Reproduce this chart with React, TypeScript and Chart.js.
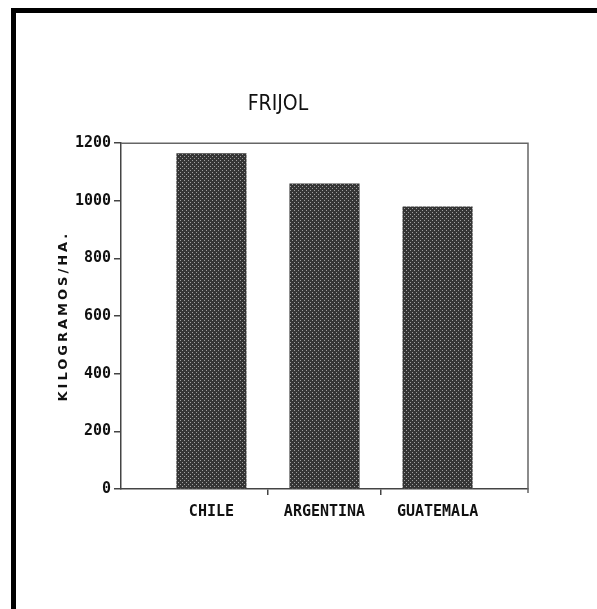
import React, { useEffect, useRef } from 'react';
import { Chart, registerables } from 'chart.js';

Chart.register(...registerables);

const CATEGORIES = ['CHILE', 'ARGENTINA', 'GUATEMALA'];
const YIELD_KG_HA = [1165, 1060, 980];
const Y_TICKS = [0, 200, 400, 600, 800, 1000, 1200];
const TITLE = 'FRIJOL';
const Y_TITLE = 'KILOGRAMOS/HA.';

function makePattern(ctx: CanvasRenderingContext2D): CanvasPattern | string {
  const c = document.createElement('canvas');
  c.width = 4;
  c.height = 4;
  const g = c.getContext('2d');
  if (!g) return '#454545';
  g.fillStyle = '#353535';
  g.fillRect(0, 0, 4, 4);
  g.fillStyle = '#a0a0a0';
  g.fillRect(0, 0, 1, 1);
  g.fillRect(2, 2, 1, 1);
  return ctx.createPattern(c, 'repeat') || '#454545';
}

const framePlugin = {
  id: 'plotFrame',
  afterLayout(chart: any) {
    const s = chart.scales.y;
    if (s && !s.__spaced) {
      const orig = s.drawTitle;
      s.drawTitle = function (...args: any[]) {
        const c = this.ctx;
        c.save();
        (c as any).letterSpacing = '3px';
        orig.apply(this, args);
        c.restore();
      };
      s.__spaced = true;
    }
  },
  afterDraw(chart: any) {
    const { ctx, chartArea } = chart;
    ctx.save();
    ctx.strokeStyle = '#666';
    ctx.lineWidth = 1.5;
    ctx.beginPath();
    ctx.moveTo(chartArea.left, chartArea.top);
    ctx.lineTo(chartArea.right, chartArea.top);
    ctx.lineTo(chartArea.right, chartArea.bottom + 4);
    ctx.stroke();
    ctx.restore();
  },
};

export default function App() {
  const ref = useRef<HTMLCanvasElement | null>(null);

  useEffect(() => {
    const canvas = ref.current;
    if (!canvas) return;
    const ctx = canvas.getContext('2d');
    if (!ctx) return;
    const pattern = makePattern(ctx);
    const tickFont = { family: 'DejaVu Sans Mono', size: 15, weight: 'bold' as const };

    const chart = new Chart(ctx, {
      type: 'bar',
      data: {
        datasets: [
          {
            data: CATEGORIES.map((_, i) => ({ x: i, y: YIELD_KG_HA[i] })) as any,
            backgroundColor: pattern as any,
            borderWidth: 0,
            barPercentage: 0.62,
            categoryPercentage: 1,
          },
        ],
      },
      options: {
        animation: false,
        responsive: false,
        layout: { padding: { left: 28, right: 69, top: 0, bottom: 80 } },
        plugins: {
          legend: { display: false },
          tooltip: { enabled: false },
          title: {
            display: true,
            text: TITLE,
            color: '#111',
            font: { family: 'DejaVu Sans Condensed', size: 21, weight: 'normal', lineHeight: 1.2 },
            padding: { top: 92, bottom: 26 },
          },
        },
        scales: {
          x: {
            type: 'linear',
            min: -0.8,
            max: 2.8,
            offset: false,
            afterBuildTicks: (s: any) => {
              s.ticks = CATEGORIES.map((_, i) => ({ value: i }));
            },
            ticks: {
              callback: (v: any) => CATEGORIES[v] ?? '',
              autoSkip: false,
              maxRotation: 0,
              padding: 8,
              color: '#111',
              font: tickFont,
            },
            grid: {
              offset: true,
              drawOnChartArea: false,
              drawTicks: true,
              tickLength: 6,
              lineWidth: 1.5,
              color: (c: any) => (c.index === 1 || c.index === 2 ? '#444' : 'rgba(0,0,0,0)'),
            },
            border: { display: true, color: '#444', width: 1.5 },
          },
          y: {
            min: 0,
            max: 1200,
            afterBuildTicks: (s: any) => {
              s.ticks = Y_TICKS.map((v) => ({ value: v }));
            },
            afterFit: (s: any) => {
              s.width = 93;
            },
            ticks: { padding: 3, color: '#111', font: tickFont, callback: (v: any) => String(v) },
            grid: { drawOnChartArea: false, drawTicks: true, tickLength: 7, lineWidth: 1.5, color: '#444' },
            border: { display: true, color: '#444', width: 1.5 },
            title: {
              display: true,
              text: Y_TITLE,
              color: '#111',
              font: { family: 'DejaVu Sans', size: 13, weight: 'bold' },
              padding: { top: 28, bottom: 4 },
            },
          },
        },
      },
      plugins: [framePlugin],
    });
    return () => chart.destroy();
  }, []);

  return (
    <div style={{ position: 'absolute', left: 0, top: 0, width: 597, height: 609, background: '#fff' }}>
      <div
        style={{
          position: 'absolute',
          left: 11,
          top: 8,
          right: 0,
          bottom: 0,
          borderLeft: '5px solid #000',
          borderTop: '5px solid #000',
          boxSizing: 'border-box',
        }}
      />
      <canvas ref={ref} width={597} height={609} style={{ position: 'absolute', left: 0, top: 0, display: 'block' }} />
    </div>
  );
}
